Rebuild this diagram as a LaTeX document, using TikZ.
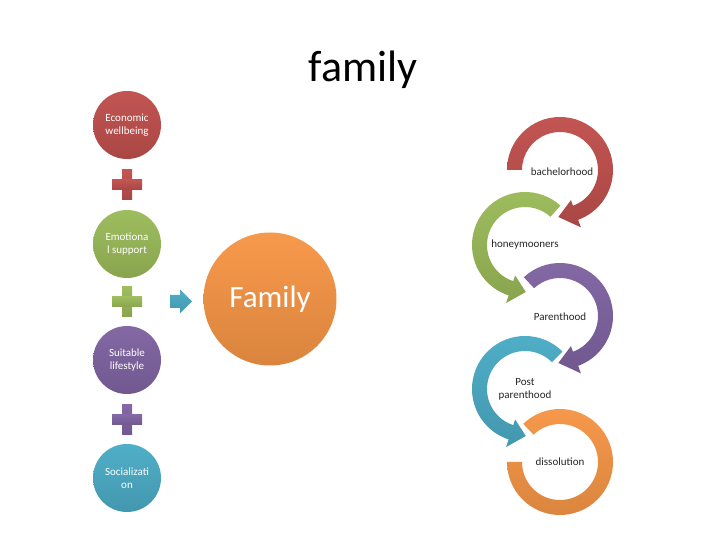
\documentclass[tikz,border=0pt]{standalone}
\usepackage{fontspec}
\setmainfont{Carlito}
\usetikzlibrary{calc}
\definecolor{cred}{HTML}{C0504D}
\definecolor{cgreen}{HTML}{9BBB59}
\definecolor{cpurple}{HTML}{8064A2}
\definecolor{ccyan}{HTML}{4BACC6}
\definecolor{corange}{HTML}{F79646}
\begin{document}
\begin{tikzpicture}[x=1pt,y=1pt,
  bubble/.style={circle, minimum size=68pt, inner sep=0pt, align=center, text=white,
    font=\fontsize{11}{13}\selectfont},
  lbl/.style={align=center, text=black!85, font=\fontsize{11}{13}\selectfont},
  shadeof/.style={top color=#1!97!white, bottom color=#1!88!black},
  pics/plussign/.style={code={
    \fill[shadeof=#1] (-5,-15) rectangle (5,15);
    \fill[shadeof=#1] (-15,-5) rectangle (15,5);}}
  ]
\fill[white] (0,0) rectangle (728,546);
\useasboundingbox (0,0) rectangle (728,546);

% title
\node[anchor=base, inner sep=0pt, font=\fontsize{44}{50}\selectfont] (title) at (363,464) {family};

% left column
\node[bubble, shadeof=cred] (econ) at (127,421) {Economic\\wellbeing};
\pic at (127,361) {plussign=cred};
\node[bubble, shadeof=cgreen] (emo) at (127,302) {Emotiona\\l support};
\pic at (127,244) {plussign=cgreen};
\node[bubble, shadeof=cpurple] (suit) at (127,186) {Suitable\\lifestyle};
\pic at (127,126) {plussign=cpurple};
\node[bubble, shadeof=ccyan] (soc) at (127,68) {Socializati\\on};

% block arrow
\shade[shadeof=ccyan] (170,251) -- (180,251) -- (180,256.5) -- (192,244.5) -- (180,232.5) -- (180,238) -- (170,238) -- cycle;

% Family circle
\node[circle, minimum size=133pt, inner sep=0pt, shadeof=corange, text=white,
  font=\fontsize{31}{36}\selectfont] (fam) at (270,247) {Family};

% circular arrows
\begin{scope}[shift={(560,376)}]
  \shade[shadeof=cred] (180:53pt) arc[start angle=180,end angle=-70,radius=53pt]
    -- (-70:61pt) -- (-92:47pt) -- (-70:32pt) -- (-70:38pt)
    arc[start angle=-70,end angle=180,radius=38pt] -- cycle;
  \node[lbl] (bach) at (2,-2) {bachelorhood};
\end{scope}
\begin{scope}[shift={(525,301)}]
  \shade[shadeof=cgreen] (48:53pt) arc[start angle=48,end angle=252,radius=53pt]
    -- (252:61pt) -- (271:47pt) -- (252:32pt) -- (252:38pt)
    arc[start angle=252,end angle=48,radius=38pt] -- cycle;
  \node[lbl] (honey) at (0,0) {honeymooners};
\end{scope}
\begin{scope}[shift={(560,230)}]
  \shade[shadeof=cpurple] (133:53pt) arc[start angle=133,end angle=-70,radius=53pt]
    -- (-70:61pt) -- (-92:47pt) -- (-70:32pt) -- (-70:38pt)
    arc[start angle=-70,end angle=133,radius=38pt] -- cycle;
  \node[lbl] (parent) at (0,-1) {Parenthood};
\end{scope}
\begin{scope}[shift={(525,157)}]
  \shade[shadeof=ccyan] (45:53pt) arc[start angle=45,end angle=252,radius=53pt]
    -- (252:61pt) -- (271:47pt) -- (252:32pt) -- (252:38pt)
    arc[start angle=252,end angle=45,radius=38pt] -- cycle;
  \node[lbl] (post) at (0,0) {Post\\parenthood};
\end{scope}
\begin{scope}[shift={(560,84)}]
  \shade[shadeof=corange] (134:53pt) arc[start angle=134,end angle=-180,radius=53pt]
    -- (-180:38pt)
    arc[start angle=-180,end angle=134,radius=38pt] -- cycle;
  \node[lbl] (diss) at (0,0) {dissolution};
\end{scope}
\end{tikzpicture}
\end{document}
